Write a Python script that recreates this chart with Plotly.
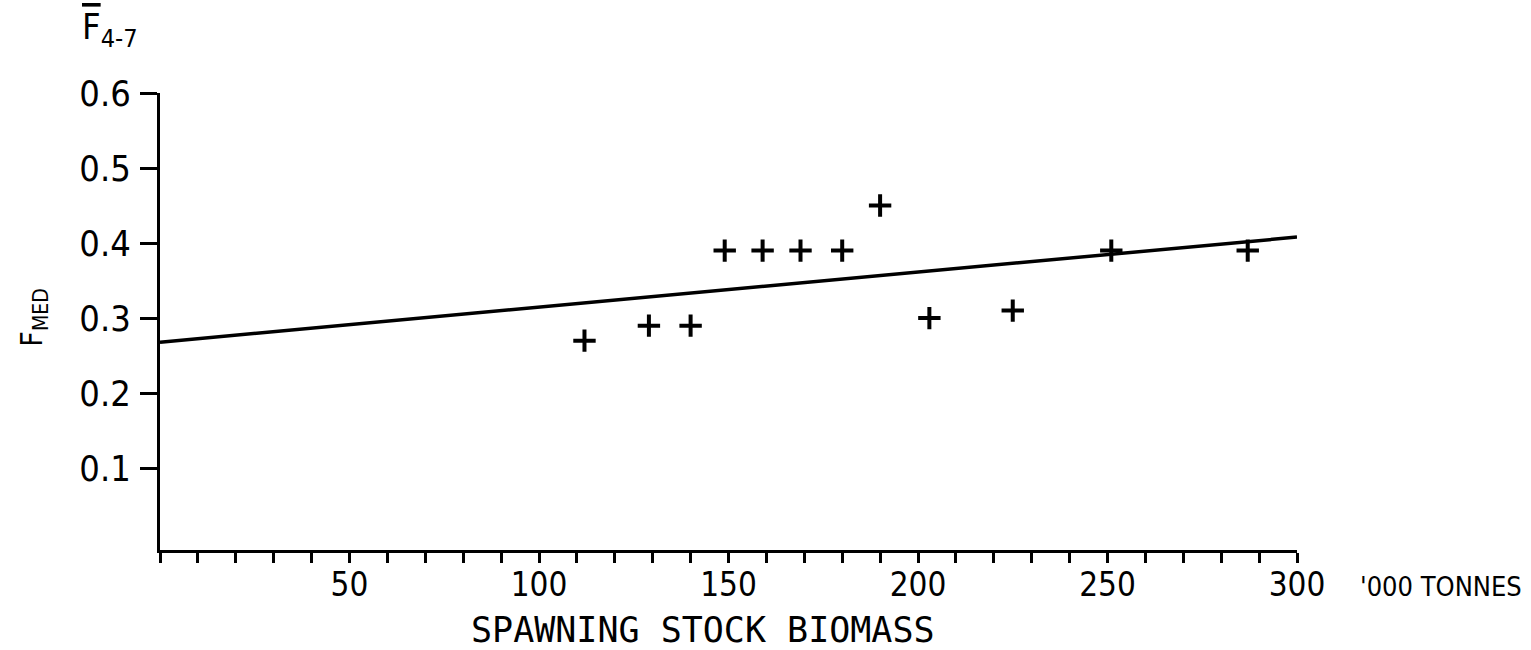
import plotly.graph_objects as go

# Data
ssb = [112, 129, 140, 149, 159, 169, 180, 190, 203, 225, 251, 287]
f_med = [0.27, 0.29, 0.29, 0.39, 0.39, 0.39, 0.39, 0.45, 0.30, 0.31, 0.39, 0.39]
fit_x = [0, 300]
fit_y = [0.268, 0.408]

x_tick_vals = [50, 100, 150, 200, 250, 300]
x_tick_labels = ["50", "100", "150", "200", "250", "300"]
y_tick_vals = [0.1, 0.2, 0.3, 0.4, 0.5, 0.6]
y_tick_labels = ["0.1", "0.2", "0.3", "0.4", "0.5", "0.6"]

FONT = "DejaVu Sans Condensed, DejaVu Sans, sans-serif"

fig = go.Figure()
fig.add_trace(go.Scatter(x=fit_x, y=fit_y, mode="lines",
                         line=dict(color="black", width=3.5), showlegend=False))
fig.add_trace(go.Scatter(x=ssb, y=f_med, mode="markers",
                         marker=dict(symbol="cross-thin", size=16,
                                     line=dict(color="black", width=4)),
                         showlegend=False))

fig.update_layout(
    width=1531, height=650,
    margin=dict(l=160, r=234, t=93, b=100),
    plot_bgcolor="white", paper_bgcolor="white",
    font=dict(family=FONT, color="black"),
    xaxis=dict(range=[0, 300], showgrid=False, zeroline=False,
               showline=True, linecolor="black", linewidth=3,
               tickmode="array", tickvals=x_tick_vals, ticktext=x_tick_labels,
               ticks="outside", ticklen=10, tickwidth=3, tickcolor="black",
               ticklabelstandoff=-7,
               tickfont=dict(size=33, family=FONT, color="black"),
               minor=dict(dtick=10, tick0=0, ticks="outside", ticklen=10,
                          tickwidth=3, tickcolor="black", showgrid=False)),
    yaxis=dict(range=[-0.009, 0.6], showgrid=False, zeroline=False,
               showline=True, linecolor="black", linewidth=3,
               tickmode="array", tickvals=y_tick_vals, ticktext=y_tick_labels,
               ticks="outside", ticklen=17, tickwidth=3, tickcolor="black",
               ticklabelstandoff=2,
               tickfont=dict(size=36, family=FONT, color="black")),
    annotations=[
        dict(text="SPAWNING STOCK BIOMASS", xref="paper", yref="paper",
             x=0.478, y=-0.175, showarrow=False, xanchor="center", yanchor="middle",
             font=dict(size=35, family="DejaVu Sans Mono, monospace", color="black")),
        dict(text="'000 TONNES", xref="paper", yref="paper",
             x=1.054, y=-0.0795, showarrow=False, xanchor="left", yanchor="middle",
             font=dict(size=27, family=FONT, color="black")),
        dict(text="<span style=\"text-decoration:overline\">F</span><sub>4-7</sub>",
             xref="paper", yref="paper",
             x=-0.070, y=1.139, showarrow=False, xanchor="left", yanchor="middle",
             font=dict(size=36, family=FONT, color="black")),
        dict(text="F<sub>MED</sub>", xref="paper", yref="paper",
             x=-0.111, y=0.508, showarrow=False, xanchor="center", yanchor="middle",
             textangle=-90,
             font=dict(size=30, family=FONT, color="black")),
    ],
)

fig.write_html("out.html")
